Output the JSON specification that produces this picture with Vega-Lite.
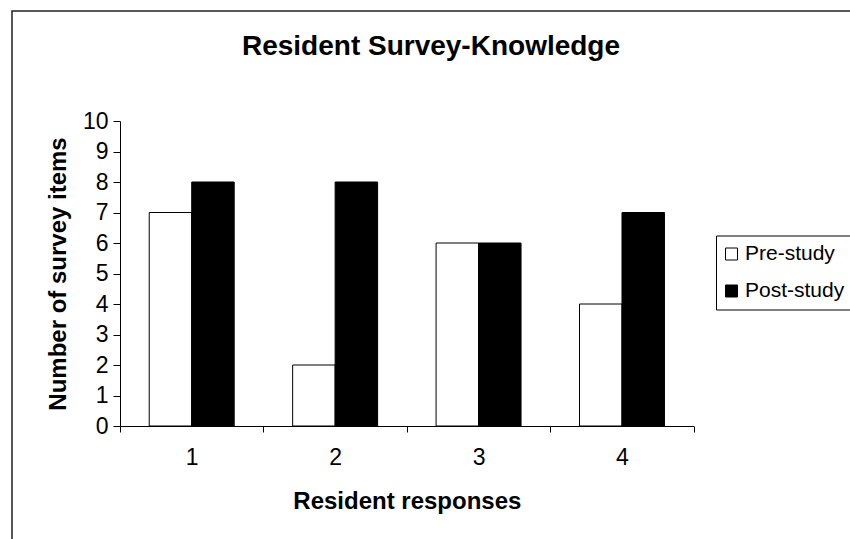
{
  "$schema": "https://vega.github.io/schema/vega-lite/v6.json",
  "autosize": "none",
  "padding": {"left": 12, "top": 11, "right": 0, "bottom": 0},
  "width": 838,
  "height": 528,
  "background": "white",
  "title": {
    "text": "Resident Survey-Knowledge",
    "anchor": "middle",
    "frame": "group",
    "fontSize": 28,
    "fontWeight": "bold",
    "font": "Liberation Sans",
    "color": "black",
    "baseline": "alphabetic",
    "offset": 0,
    "dy": 72
  },
  "data": {
    "values": [
      {"response": "1", "phase": "Pre-study", "items": 7},
      {"response": "1", "phase": "Post-study", "items": 8},
      {"response": "2", "phase": "Pre-study", "items": 2},
      {"response": "2", "phase": "Post-study", "items": 8},
      {"response": "3", "phase": "Pre-study", "items": 6},
      {"response": "3", "phase": "Post-study", "items": 6},
      {"response": "4", "phase": "Pre-study", "items": 4},
      {"response": "4", "phase": "Post-study", "items": 7}
    ]
  },
  "mark": {"type": "bar", "stroke": "black", "strokeWidth": 1},
  "encoding": {
    "x": {
      "field": "response",
      "type": "nominal",
      "sort": ["1", "2", "3", "4"],
      "scale": {"range": [108, 681.7], "paddingInner": 0, "paddingOuter": 0},
      "axis": {
        "title": "Resident responses",
        "labelAngle": 0,
        "offset": -113,
        "tickBand": "extent",
        "tickSize": 6,
        "labelPadding": 14,
        "titlePadding": 20,
        "labelFontSize": 23,
        "titleFontSize": 24
      }
    },
    "xOffset": {
      "field": "phase",
      "type": "nominal",
      "sort": ["Pre-study", "Post-study"],
      "scale": {"paddingInner": 0, "paddingOuter": 0.688}
    },
    "y": {
      "field": "items",
      "type": "quantitative",
      "scale": {"domain": [0, 10], "range": [415, 110], "nice": false},
      "axis": {
        "title": "Number of survey items",
        "values": [0, 1, 2, 3, 4, 5, 6, 7, 8, 9, 10],
        "offset": -108,
        "grid": false,
        "tickSize": 7,
        "labelPadding": 5,
        "titlePadding": 12,
        "labelFontSize": 23,
        "titleFontSize": 24
      }
    },
    "color": {
      "field": "phase",
      "type": "nominal",
      "sort": ["Pre-study", "Post-study"],
      "scale": {"domain": ["Pre-study", "Post-study"], "range": ["white", "black"]},
      "legend": {
        "title": null,
        "orient": "none",
        "legendX": 704,
        "legendY": 224.5,
        "padding": 8,
        "strokeColor": "black",
        "symbolType": "square",
        "symbolSize": 144,
        "symbolOffset": -3,
        "symbolStrokeColor": "black",
        "symbolStrokeWidth": 1,
        "labelFontSize": 21,
        "labelOffset": 3,
        "rowPadding": 15
      }
    }
  },
  "config": {
    "font": "Liberation Sans",
    "view": {
      "stroke": "#222",
      "strokeWidth": 1.5,
      "strokeDash": [838, 1366, 528]
    },
    "axis": {
      "domainColor": "black",
      "domainWidth": 1,
      "tickColor": "black",
      "tickWidth": 1,
      "labelColor": "black",
      "titleColor": "black",
      "labelFont": "Liberation Sans",
      "titleFont": "Liberation Sans",
      "titleFontWeight": "bold"
    },
    "legend": {
      "labelColor": "black",
      "labelFont": "Liberation Sans"
    }
  }
}
